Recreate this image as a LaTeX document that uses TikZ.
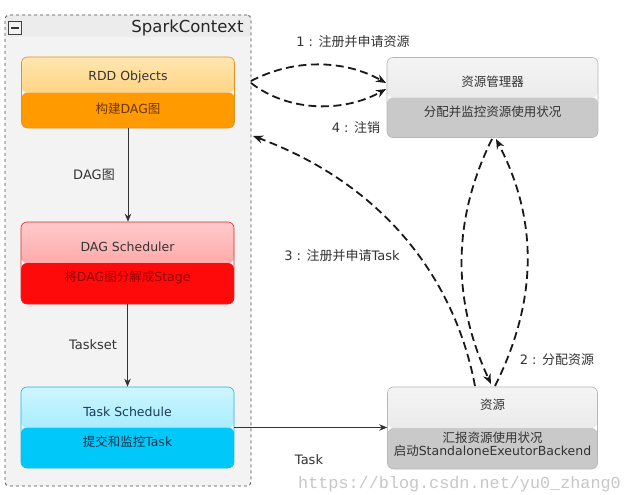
\documentclass[tikz,border=0pt]{standalone}
\usepackage{fontspec}
\setmainfont{DejaVu Sans}
\newfontfamily\cjk{Noto Sans CJK SC}
\newfontfamily\wmfont{Liberation Mono}
\usetikzlibrary{arrows.meta,calc}
\definecolor{bgpanel}{HTML}{F3F3F3}
\definecolor{titlebar}{HTML}{ECECEC}
\definecolor{orTop}{HTML}{FFE6B0}
\definecolor{orMid}{HTML}{FFC35A}
\definecolor{orBot}{HTML}{FF9A00}
\definecolor{rdTop}{HTML}{FFCACA}
\definecolor{rdMid}{HTML}{FF8A8A}
\definecolor{rdBot}{HTML}{FF0A0A}
\definecolor{cyTop}{HTML}{CDF6FF}
\definecolor{cyMid}{HTML}{85E3FF}
\definecolor{cyBot}{HTML}{00C8F8}
\definecolor{gyTop}{HTML}{F4F4F4}
\definecolor{gyMid}{HTML}{E2E2E2}
\definecolor{gyBot}{HTML}{C9C9C9}
\definecolor{txt}{HTML}{333333}
\begin{document}
\begin{tikzpicture}[x=1pt,y=-1pt,
  every node/.style={font=\fontsize{12.5}{14}\selectfont, text=txt},
  splitbox/.style n args={3}{draw=#3!75!gray, line width=0.6pt, rounded corners=6pt, inner sep=0pt,
     path picture={
       \shade[top color=#1, bottom color=#2] (path picture bounding box.north west) rectangle (path picture bounding box.east);
       \fill[#3] (path picture bounding box.west) rectangle (path picture bounding box.south east);
     }},
  boxsize/.style={minimum width=213pt, minimum height=#1},
  container/.style={draw=black!70, dashed, line width=0.8pt, rounded corners=4pt, fill=bgpanel, inner sep=0pt,
     minimum width=246pt, minimum height=471pt,
     path picture={\fill[titlebar] (path picture bounding box.north west) rectangle ($(path picture bounding box.north east)+(0,-22pt)$);}},
  solidarrow/.style={draw=black!80, line width=0.9pt, -{Stealth[length=8pt,width=6.5pt]}},
  dasharrow/.style={draw=black!90, line width=1.8pt, dash pattern=on 8pt off 4.5pt, -{Stealth[length=10pt,width=8pt]}},
  lbl/.style={font=\fontsize{13}{15}\selectfont, text=txt}
]
\useasboundingbox (0,0) rectangle (632,495);
\fill[white] (0,0) rectangle (632,495);

% container
\node[container] (spark) at (128,250.5) {};
\node[draw=black!75, fill=white!90!gray, line width=0.8pt, minimum size=13pt, inner sep=0pt] (minus) at (15,28) {};
\draw[line width=1.6pt, black!80] ($(minus.west)+(3pt,0)$) -- ($(minus.east)+(-3pt,0)$);
\node[anchor=base east, font=\fontsize{16.5}{18}\selectfont, text=black!85] (title) at (247,33) {SparkContext};

% left boxes
\node[splitbox={orTop}{orMid}{orBot}, boxsize=71pt] (rdd) at (128,92.5) {};
\node (rddT) at (128,77) {RDD Objects};
\node[text={rgb,255:red,110;green,55;blue,0}] (rddB) at (128,109) {{\cjk 构建}DAG{\cjk 图}};

\node[splitbox={rdTop}{rdMid}{rdBot}, boxsize=82pt] (dag) at (127.5,263) {};
\node (dagT) at (127.5,247) {DAG Scheduler};
\node[text={rgb,255:red,150;green,0;blue,0}] (dagB) at (127.5,278) {{\cjk 将}DAG{\cjk 图分解成}Stage};

\node[splitbox={cyTop}{cyMid}{cyBot}, boxsize=81pt] (task) at (127.5,427.5) {};
\node[text={rgb,255:red,25;green,60;blue,90}] (taskT) at (127.5,412) {Task Schedule};
\node[text={rgb,255:red,20;green,50;blue,80}] (taskB) at (127.5,442) {{\cjk 提交和监控}Task};

% right boxes
\node[splitbox={gyTop}{gyMid}{gyBot}, minimum width=211pt, minimum height=80pt] (mgr) at (492.5,97.5) {};
\node (mgrT) at (492.5,82) {\cjk 资源管理器};
\node (mgrB) at (492.5,112) {\cjk 分配并监控资源使用状况};

\node[splitbox={gyTop}{gyMid}{gyBot}, minimum width=210pt, minimum height=82pt] (res) at (492.5,428) {};
\node (resT) at (492.5,405) {\cjk 资源};
\node[align=center, font=\fontsize{12.5}{13.5}\selectfont] (resB) at (492.5,444) {{\cjk 汇报资源使用状况}\\{\cjk 启动}StandaloneExeutorBackend};

% solid arrows
\draw[solidarrow] (rdd.south) -- (rdd.south |- dag.north);
\draw[solidarrow] (dag.south) -- (dag.south |- task.north);
\draw[solidarrow] (task.east) -- (task.east -| res.west);

\node[lbl] (l0) at (94,175) {DAG{\cjk 图}};
\node[lbl] (l00) at (93,345) {Taskset};
\node[lbl] (l000) at (309,460) {Task};

% dashed arrows
\coordinate (a1s) at (251,81);
\coordinate (a1e) at (386,83);
\coordinate (a4s) at (251,83);
\coordinate (a4e) at (386,89);
\draw[dasharrow] (a1s) .. controls (295,58) and (345,60) .. (a1e);
\draw[dasharrow] (a4s) .. controls (290,113) and (345,112) .. (a4e);

\coordinate (a3s) at (475,386);
\coordinate (a3e) at (253,136);
\draw[dasharrow] (a3s) .. controls (455,280) and (385,185) .. (a3e);

\coordinate (a2t) at (492,139);
\coordinate (a2b) at (491,384);
\coordinate (a2bb) at (495,386);
\coordinate (a2tt) at (496,139);
\draw[dasharrow] (a2t) .. controls (452,220) and (452,300) .. (a2b);
\draw[dasharrow] (a2bb) .. controls (538,300) and (538,220) .. (a2tt);

\node[lbl] (l1) at (353,42) {1 : {\cjk 注册并申请资源}};
\node[lbl] (l4) at (356,128) {4 : {\cjk 注销}};
\node[lbl] (l3) at (342,256) {3 : {\cjk 注册并申请}Task};
\node[lbl] (l2) at (557,360) {2 : {\cjk 分配资源}};

% watermark
\node[anchor=base west, inner sep=0pt, font=\wmfont\fontsize{16.8}{18}\selectfont, text=black!22] (wm) at (298,488) {https://blog.csdn.net/yu0\_zhang0};
\end{tikzpicture}
\end{document}
